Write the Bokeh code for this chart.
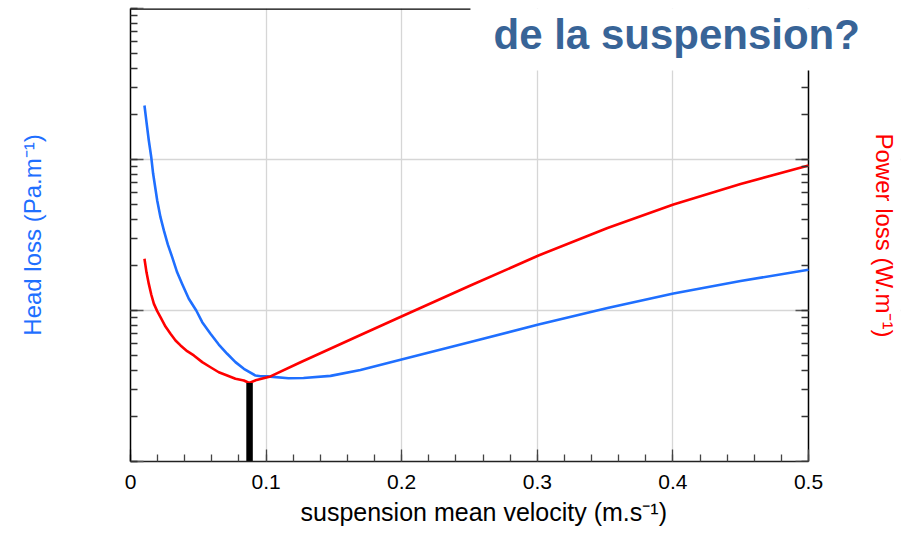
import math
import numpy as np
from bokeh.plotting import figure
from bokeh.models import Range1d, LogAxis, FixedTicker, LogTicker, Label, Title, CustomJSTickFormatter
from bokeh.embed import file_html
from bokeh.resources import INLINE

# ---- data ----
head_x = [0.0103, 0.0118, 0.0135, 0.0153, 0.0167, 0.0197, 0.0221, 0.0246, 0.0275, 0.0308,
          0.0344, 0.0381, 0.043, 0.0485, 0.0529, 0.059, 0.0651, 0.0713, 0.0774, 0.0836,
          0.0922, 0.0959, 0.1008, 0.1165, 0.1276, 0.1475, 0.1696, 0.2006, 0.2507,
          0.3009, 0.3518, 0.4004, 0.4499, 0.5]
head_loss = [227.8, 176.6, 133.6, 103.6, 80.4, 53.5, 41.5, 33.9, 27.4, 22.5,
             17.9, 15.0, 11.96, 10.0, 8.37, 7.01, 5.95, 5.17, 4.55, 4.11,
             3.71, 3.67, 3.66, 3.56, 3.57, 3.69, 4.04, 4.75, 6.18,
             8.08, 10.39, 12.96, 15.68, 18.6]

power_x = [0.0103, 0.0118, 0.0135, 0.0153, 0.0172, 0.0197, 0.0221, 0.0258, 0.0295, 0.0332,
           0.0369, 0.0418, 0.0467, 0.0529, 0.059, 0.0651, 0.0713, 0.0774,
           0.0836, 0.0876, 0.093, 0.1032, 0.1254, 0.1696, 0.2006, 0.2507, 0.3009,
           0.3518, 0.4004, 0.4499, 0.5]
power_loss = [22.0, 17.9, 15.0, 12.76, 11.1, 9.9, 9.03, 7.83, 7.01, 6.33,
              5.87, 5.38, 5.04, 4.55, 4.21, 3.90, 3.71, 3.53,
              3.44, 3.31, 3.47, 3.66, 4.54, 6.88, 9.19, 14.64, 23.13,
              35.2, 50.4, 68.8, 91.3]

optimum_x = [0.0878]
optimum_top = [3.31]

x_ticks = [0, 0.1, 0.2, 0.3, 0.4, 0.5]
x_tick_labels = ["0", "0.1", "0.2", "0.3", "0.4", "0.5"]

title_text = "de la suspension?"
x_title = "suspension mean velocity (m.s\u207b\u00b9)"
left_title = "Head loss (Pa.m\u207b\u00b9)"
right_title = "Power loss (W.m\u207b\u00b9)"

# ---- styling / layout ----
FONT = "Liberation Sans"
BLUE = "#1f6fff"
RED = "#ff0000"
x_min, x_max = 0.0, 0.5
y_min, y_max = 1.0, 1000.0
W, H = 906, 539
BL, BR, BT, BB = 130, 6, 8, 78
frame_w = W - BL - BR            # 770 px
axis_w = 678                     # px used by 0..0.5
x_end = x_max * frame_w / axis_w  # frame extends right of the axis for the title / right label
box_left = 0.2507
box_bottom = 388.0

p = figure(width=W, height=H, x_range=Range1d(x_min, x_end), y_range=Range1d(y_min, y_max),
           y_axis_type="log", output_backend="svg", toolbar_location=None,
           min_border_left=BL, min_border_right=BR, min_border_top=BT, min_border_bottom=BB)
p.outline_line_color = None
p.background_fill_color = "white"
p.border_fill_color = "white"

blank = CustomJSTickFormatter(code="return '';")

# x axis
xa = p.xaxis[0]
xa.bounds = (x_min, x_max)
xa.ticker = FixedTicker(ticks=x_ticks, minor_ticks=list(np.round(np.arange(0, 0.5001, 0.02), 4)))
xa.major_label_overrides = {t: l for t, l in zip(x_ticks, x_tick_labels)}
xa.major_tick_in = 12
xa.major_tick_out = 0
xa.minor_tick_in = 7
xa.minor_tick_out = 0
xa.axis_line_color = "#222222"
xa.axis_line_width = 1.5
xa.major_tick_line_color = "#444444"
xa.minor_tick_line_color = "#444444"
xa.major_tick_line_width = 1.3
xa.minor_tick_line_width = 1.3
xa.major_label_text_font = FONT
xa.major_label_text_font_size = "21px"
xa.major_label_text_color = "black"
xa.major_label_standoff = 13

# x axis title, placed as a title below the axis so it can be offset horizontally
xt = Title(text=x_title, align="left", offset=170, vertical_align="top",
           text_font=FONT, text_font_size="25px",
           text_font_style="normal", text_color="black", standoff=12)
p.add_layout(xt, "below")

# left axis
ya = p.yaxis[0]
ya.ticker = LogTicker(num_minor_ticks=10)
ya.formatter = blank
ya.major_tick_in = 13
ya.major_tick_out = 0
ya.minor_tick_in = 7
ya.minor_tick_out = 0
ya.axis_line_color = "black"
ya.axis_line_width = 1.5
ya.major_tick_line_color = "#555555"
ya.minor_tick_line_color = "#333333"
ya.major_tick_line_width = 1.5
ya.minor_tick_line_width = 1.3
ya.major_label_standoff = 0
ya.axis_label = left_title
ya.axis_label_text_font = FONT
ya.axis_label_text_font_size = "24px"
ya.axis_label_text_font_style = "normal"
ya.axis_label_text_color = BLUE
ya.axis_label_standoff = 85

# right axis (ticks on the x = 0.5 border, below the title box)
ra = LogAxis(ticker=LogTicker(num_minor_ticks=10), formatter=blank,
             fixed_location=x_max, bounds=(y_min, box_bottom))
ra.major_tick_in = 13
ra.major_tick_out = 0
ra.minor_tick_in = 7
ra.minor_tick_out = 0
ra.axis_line_color = None
ra.major_tick_line_color = "#555555"
ra.minor_tick_line_color = "#333333"
ra.major_tick_line_width = 1.5
ra.minor_tick_line_width = 1.3
ra.major_label_standoff = 0
p.add_layout(ra, "right")

# grid
p.xgrid.ticker = FixedTicker(ticks=x_ticks)
p.xgrid.grid_line_color = "#d6d6d6"
p.xgrid.grid_line_width = 1.3
p.ygrid.grid_line_color = "#d6d6d6"
p.ygrid.grid_line_width = 1.3

# white areas: title box and the strip right of the plot border
p.quad(left=[box_left], right=[x_end], bottom=[box_bottom], top=[y_max],
       fill_color="white", line_color=None)
p.quad(left=[x_max], right=[x_end], bottom=[y_min], top=[y_max],
       fill_color="white", line_color=None)

# borders (top-left part and right)
p.segment(x0=[x_min], y0=[y_max], x1=[box_left], y1=[y_max], line_color="black", line_width=2.6)
p.segment(x0=[x_max], y0=[y_min], x1=[x_max], y1=[box_bottom], line_color="black", line_width=1.5)

# curves
p.line(head_x, head_loss, line_color=BLUE, line_width=2.6, line_join="round")
p.line(power_x, power_loss, line_color=RED, line_width=2.6, line_join="round")
p.vbar(x=optimum_x, top=optimum_top, bottom=y_min, width=0.0048, fill_color="black", line_color=None)

# title
title = Label(x=0.2677, y=673, text=title_text, text_font=FONT, text_font_size="42px",
              text_font_style="bold", text_color="#386497", text_baseline="alphabetic")
p.add_layout(title)

# right axis title
rlab = Label(x=x_max + 76 / 1356, y=31.4, text=right_title, text_font=FONT, text_font_size="24px",
             text_color=RED, angle=-math.pi / 2, text_align="center", text_baseline="middle")
p.add_layout(rlab)

open("out.html", "w").write(file_html(p, INLINE))
